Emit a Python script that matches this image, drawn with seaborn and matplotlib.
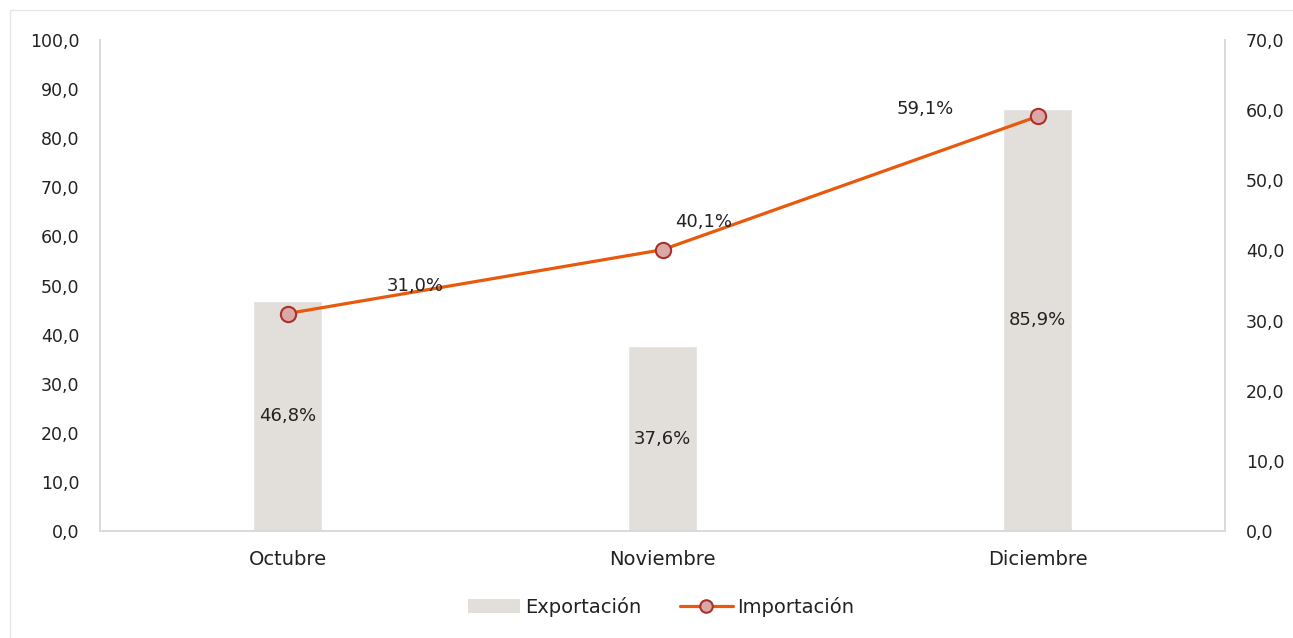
import matplotlib
matplotlib.use("Agg")
import matplotlib.pyplot as plt
import seaborn as sns
import pandas as pd
from matplotlib.ticker import FuncFormatter, MultipleLocator
from matplotlib.patches import Rectangle
from matplotlib.lines import Line2D
from matplotlib.patches import Patch

meses = ["Octubre", "Noviembre", "Diciembre"]
exportacion = [46.8, 37.6, 85.9]
importacion = [31.0, 40.1, 59.1]

sns.set_theme(style="white")
plt.rcParams['font.family'] = ['DejaVu Sans']

df = pd.DataFrame({"mes": meses, "exp": exportacion, "imp": importacion})

fig = plt.figure(figsize=(12.93, 6.38), dpi=100)
fig.patches.append(Rectangle((10/1293, -0.01), 1.2, (628)/638 + 0.01, transform=fig.transFigure,
                             fill=False, edgecolor="#e6e6e6", linewidth=1))
ax = fig.add_axes([100/1293, 107/638, 1125/1293, 491/638])

bar_color = "#e2dfda"
line_color = "#e8590c"
txt = "#222222"
sns.barplot(data=df, x="mes", y="exp", ax=ax, color=bar_color, width=0.182, saturation=1)
ax.set_xlim(-0.5, 2.5)
ax.set_ylim(0, 100)
ax.yaxis.set_major_locator(MultipleLocator(10))
fmt = FuncFormatter(lambda v, p: f"{v:.1f}".replace(".", ","))
ax.yaxis.set_major_formatter(fmt)
ax.set_xlabel("")
ax.set_ylabel("")

ax2 = ax.twinx()
sns.lineplot(data=df, x="mes", y="imp", ax=ax2, color=line_color, linewidth=2.3,
             marker="o", markersize=11, markerfacecolor="#dba8a8", markeredgecolor="#a8322a",
             markeredgewidth=1.5)
ax2.set_ylim(0, 70)
ax2.yaxis.set_major_locator(MultipleLocator(10))
ax2.yaxis.set_major_formatter(fmt)
ax2.set_xlabel("")
ax2.set_ylabel("")
ax2.set_xlim(-0.5, 2.5)

for a in (ax, ax2):
    a.spines["top"].set_visible(False)
    for s in ["left", "right", "bottom"]:
        a.spines[s].set_color("#d9d9d9")
        a.spines[s].set_linewidth(1.2)
    a.tick_params(axis="both", length=0, labelsize=12.5, colors=txt)
ax.tick_params(axis="y", pad=15)
ax2.tick_params(axis="y", pad=15)
ax.tick_params(axis="x", pad=14, labelsize=14)

# bar labels
for i, v in enumerate(exportacion):
    ax.text(i, v / 2, f"{v:.1f}%".replace(".", ","), ha="center", va="center", fontsize=13, color=txt)

# line labels
offsets = [(0.34, 4.0), (0.11, 4.0), (-0.30, 1.0)]
for i, (v, (dx, dy)) in enumerate(zip(importacion, offsets)):
    ax2.text(i + dx, v + dy, f"{v:.1f}%".replace(".", ","), ha="center", va="center", fontsize=13, color=txt)

handles = [Patch(facecolor=bar_color, edgecolor="none"),
           Line2D([0], [0], color=line_color, linewidth=2.3, marker="o", markersize=9,
                  markerfacecolor="#dba8a8", markeredgecolor="#a8322a", markeredgewidth=1.5)]
fig.legend(handles, ["Exportación", "Importación"], loc="center", bbox_to_anchor=(661/1293, 1 - 607/638),
           ncol=2, frameon=False, fontsize=14, handlelength=2.7, handletextpad=0.25, columnspacing=2.0,
           labelcolor=txt)

fig.savefig("out.png", dpi=100)
